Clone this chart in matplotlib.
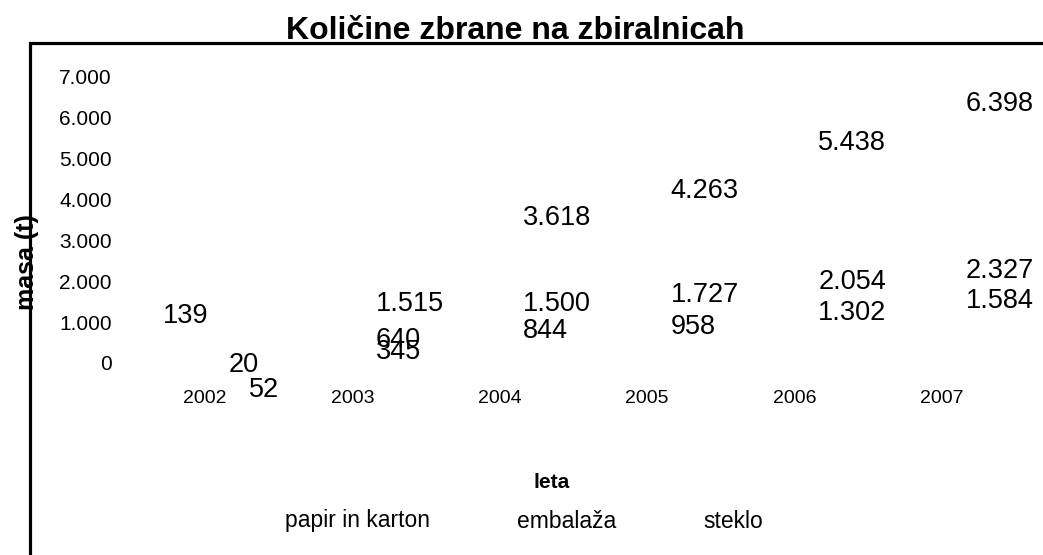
import matplotlib.pyplot as plt
from matplotlib.lines import Line2D
from matplotlib.patches import Rectangle
from matplotlib.ticker import FuncFormatter

plt.rcParams['font.family'] = ['Liberation Sans', 'DejaVu Sans']

# data
years = ['2002', '2003', '2004', '2005', '2006', '2007']
series_names = ['papir in karton', 'embalaža', 'steklo']
papir = [139, 1515, 3618, 4263, 5438, 6398]
embalaza = [20, 640, 1500, 1727, 2054, 2327]
steklo = [52, 345, 844, 958, 1302, 1584]
y_ticks = [0, 1000, 2000, 3000, 4000, 5000, 6000, 7000]


def dotted(v):
    return f"{int(v):,}".replace(',', '.')


W, H = 1043, 555
fig = plt.figure(figsize=(W / 100, H / 100), dpi=100)
fig.patch.set_facecolor('white')

# plot area in pixel terms: x from 130 to 1043, y from 60 to 380 (top-down)
ax = fig.add_axes([130 / W, (H - 380) / H, 913 / W, 320 / H])
ax.set_facecolor('none')
for sp in ax.spines.values():
    sp.set_visible(False)

ax.set_xlim(-0.508, 5.685)
ax.set_ylim(-416, 7408)

ax.set_yticks(y_ticks)
ax.yaxis.set_major_formatter(FuncFormatter(lambda v, p: dotted(v)))
ax.tick_params(axis='y', length=0, pad=13, labelsize=15)
ax.set_xticks(range(len(years)))
ax.set_xticklabels(years)
ax.tick_params(axis='x', length=0, pad=7, labelsize=14)

# value labels (the bars themselves are not drawn in the original)
# the 2002 labels are displaced in the original, kept as offsets in points
special = {(0, 0): (-30, 30), (2, 0): (32, -21)}
for s, vals in enumerate([papir, embalaza, steklo]):
    for i, v in enumerate(vals):
        dx, dy = special.get((s, i), (17, -2))
        ax.annotate(dotted(v), xy=(i, v), xytext=(dx, dy),
                    textcoords='offset points', ha='left', va='center',
                    fontsize=19.5)

# chart-area border (only top and left edges fall inside the image)
fig.patches.append(Rectangle((30 / W, -0.1), 1.2, (H - 43) / H + 0.1,
                             transform=fig.transFigure, fill=False,
                             edgecolor='black', linewidth=2.3))

fig.text(515 / W, (H - 39) / H, 'Količine zbrane na zbiralnicah',
         ha='center', va='baseline', fontsize=23, fontweight='bold')
fig.text(27 / W, (H - 262) / H, 'masa (t)', rotation=90,
         ha='center', va='center', fontsize=18, fontweight='bold')
fig.text(552 / W, (H - 482) / H, 'leta', ha='center', va='center',
         fontsize=15, fontweight='bold')

handles = [Line2D([], [], linestyle='none') for _ in series_names]
fig.legend(handles, series_names, loc='center', ncol=3, frameon=False,
           bbox_to_anchor=(524 / W, (H - 521) / H), fontsize=16.5,
           handlelength=0, handletextpad=0, columnspacing=3.8)

fig.savefig('out.png', dpi=100)
